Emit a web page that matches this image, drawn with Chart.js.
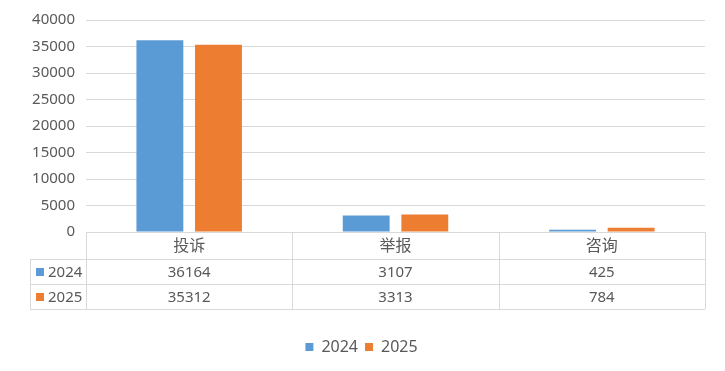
<!DOCTYPE html>
<html>
<head>
<meta charset="utf-8">
<script src="https://cdn.jsdelivr.net/npm/chart.js@4/dist/chart.umd.min.js"></script>
<style>
html,body{margin:0;padding:0;background:#fff;}
#wrap{width:725px;height:371px;}
</style>
</head>
<body>
<div id="wrap"><canvas id="c" width="725" height="371"></canvas></div>
<script>
const categories = ['投诉', '举报', '咨询'];
const seriesNames = ['2024', '2025'];
const values2024 = [36164, 3107, 425];
const values2025 = [35312, 3313, 784];
const seriesColors = ['#5B9BD5', '#ED7D31'];
const yMax = 40000;
const yStep = 5000;

const FONT = "'Noto Sans', 'Noto Sans CJK SC', sans-serif";
const TEXT = '#595959';
const GRID = '#D9D9D9';

const legendShift = {
  id: 'legendShift',
  afterLayout(chart) {
    const lg = chart.legend;
    if (lg) { lg.left += 9; lg.right += 9; }
  }
};

const tablePlugin = {
  id: 'dataTable',
  afterDraw(chart) {
    const ctx = chart.ctx;
    const area = chart.chartArea;
    const xs = chart.scales.x;
    const n = categories.length;
    const colW = (area.right - area.left) / n;
    const top = area.bottom;
    const catH = 27, rowH = 25;
    const tableLeft = 30;
    const rows = [values2024, values2025];
    const bottom = top + catH + rowH * rows.length;
    ctx.save();
    ctx.strokeStyle = GRID;
    ctx.lineWidth = 1;
    ctx.beginPath();
    ctx.moveTo(area.left, Math.round(top) + 0.5); ctx.lineTo(area.right, Math.round(top) + 0.5);
    for (let r = 0; r <= rows.length; r++) {
      const y = Math.round(top + catH + rowH * r) + 0.5;
      ctx.moveTo(tableLeft, y); ctx.lineTo(area.right, y);
    }
    ctx.moveTo(tableLeft + 0.5, top + catH); ctx.lineTo(tableLeft + 0.5, bottom);
    for (let i = 0; i <= n; i++) {
      const x = Math.round(area.left + colW * i) + 0.5;
      ctx.moveTo(x, top); ctx.lineTo(x, bottom);
    }
    ctx.stroke();

    ctx.fillStyle = TEXT;
    ctx.textAlign = 'center';
    ctx.textBaseline = 'middle';
    ctx.font = '16px ' + FONT;
    categories.forEach((c, i) => {
      ctx.fillText(c, xs.getPixelForValue(i), top + catH / 2 + 1);
    });
    ctx.font = '15px ' + FONT;
    rows.forEach((vals, r) => {
      const yc = top + catH + rowH * r + rowH / 2 + 1;
      vals.forEach((v, i) => {
        ctx.fillText(String(v), xs.getPixelForValue(i), yc);
      });
      ctx.fillStyle = seriesColors[r];
      ctx.fillRect(36, Math.round(yc - 5), 8, 8);
      ctx.fillStyle = TEXT;
      ctx.textAlign = 'left';
      ctx.fillText(seriesNames[r], 48, yc);
      ctx.textAlign = 'center';
    });
    ctx.restore();
  }
};

new Chart(document.getElementById('c'), {
  type: 'bar',
  data: {
    labels: categories,
    datasets: [
      { label: seriesNames[0], data: values2024, backgroundColor: seriesColors[0] },
      { label: seriesNames[1], data: values2025, backgroundColor: seriesColors[1] }
    ]
  },
  options: {
    responsive: false,
    animation: false,
    categoryPercentage: 0.568,
    barPercentage: 0.8,
    layout: { padding: { top: 18, right: 20, bottom: 6, left: 0 } },
    plugins: {
      tooltip: { enabled: false },
      legend: {
        position: 'bottom',
        labels: {
          boxWidth: 8, boxHeight: 8, padding: 7,
          color: TEXT,
          font: { family: FONT, size: 16 }
        }
      }
    },
    scales: {
      x: {
        grid: { display: false },
        border: { display: false },
        ticks: { display: false },
        afterFit(s) { s.height = 100; }
      },
      y: {
        min: 0, max: yMax,
        border: { display: false },
        grid: { color: GRID, drawTicks: false },
        ticks: {
          stepSize: yStep, padding: 11, color: TEXT,
          font: { family: FONT, size: 15 },
          callback: (v) => String(v)
        },
        afterFit(s) { s.width = 86; }
      }
    }
  },
  plugins: [legendShift, tablePlugin]
});
</script>
</body>
</html>
